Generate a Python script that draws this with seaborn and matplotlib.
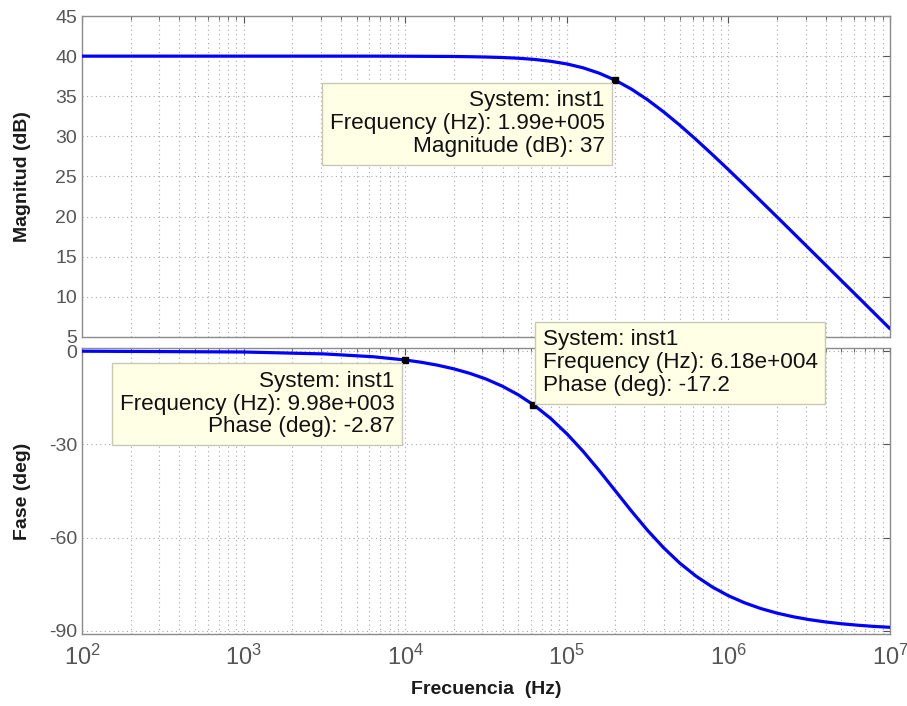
import numpy as np
import pandas as pd
import matplotlib
matplotlib.use("Agg")
import matplotlib.pyplot as plt
import seaborn as sns

# Frequency samples (Hz)
freq = [1e2, 1e3, 3.162e3, 6.31e3,
        1e4, 1.259e4, 1.585e4, 1.995e4, 2.512e4, 3.162e4, 3.981e4, 5.012e4, 6.31e4, 7.943e4,
        1e5, 1.259e5, 1.585e5, 1.995e5, 2.512e5, 3.162e5, 3.981e5, 5.012e5, 6.31e5, 7.943e5,
        1e6, 1.259e6, 1.585e6, 1.995e6, 2.512e6, 3.162e6, 3.981e6, 5.012e6, 6.31e6, 7.943e6,
        1e7]
magnitude_db = [40.00, 40.00, 40.00, 40.00,
                39.99, 39.98, 39.97, 39.96, 39.93, 39.89, 39.83, 39.74, 39.59, 39.36,
                39.03, 38.55, 37.88, 37.00, 35.89, 34.56, 33.04, 31.38, 29.60, 27.75,
                25.85, 23.91, 21.95, 19.98, 17.99, 16.00, 14.01, 12.01, 10.02, 8.02,
                6.02]
phase_deg = [-0.03, -0.29, -0.91, -1.81,
             -2.86, -3.60, -4.53, -5.70, -7.16, -8.98, -11.26, -14.07, -17.51, -21.66,
             -26.57, -32.19, -38.40, -44.93, -51.47, -57.69, -63.32, -68.25, -72.41, -75.87,
             -78.69, -80.97, -82.81, -84.28, -85.45, -86.38, -87.12, -87.71, -88.18, -88.56,
             -88.85]

# Data tips
tip_mag_f, tip_mag_v = 1.99e5, 37.0
tip_ph_f = [9.98e3, 6.18e4]
tip_ph_v = [-2.87, -17.2]
tip_texts = ["System: inst1\nFrequency (Hz): 1.99e+005\nMagnitude (dB): 37",
             "System: inst1\nFrequency (Hz): 9.98e+003\nPhase (deg): -2.87",
             "System: inst1\nFrequency (Hz): 6.18e+004\nPhase (deg): -17.2"]

mag_ticks = [5, 10, 15, 20, 25, 30, 35, 40, 45]
ph_ticks = [-90, -60, -30, 0]
x_ticks = [1e2, 1e3, 1e4, 1e5, 1e6, 1e7]
x_ticklabels = [r"$10^{2}$", r"$10^{3}$", r"$10^{4}$", r"$10^{5}$", r"$10^{6}$", r"$10^{7}$"]

df = pd.DataFrame({"f": freq, "mag": magnitude_db, "ph": phase_deg})

sns.set_style("white")
plt.rcParams["font.family"] = ["Liberation Sans", "DejaVu Sans"]
plt.rcParams["mathtext.fontset"] = "custom"
plt.rcParams["mathtext.rm"] = "Liberation Sans"
plt.rcParams["mathtext.it"] = "Liberation Sans"
plt.rcParams["axes.unicode_minus"] = False

fig = plt.figure(figsize=(9.07, 7.06), dpi=100)
ax1 = fig.add_axes([0.0904, 0.5227, 0.8909, 0.4546])
ax2 = fig.add_axes([0.0904, 0.1020, 0.8909, 0.4051])

tick_col = "#555555"
grid_col = "#a8a8a8"

for ax, col in ((ax1, "mag"), (ax2, "ph")):
    sns.lineplot(data=df, x="f", y=col, ax=ax, color="#0000ff", linewidth=2.3, zorder=3)
    ax.set_xscale("log")
    ax.set_xlim(1e2, 1e7)
    ax.grid(True, which="major", linestyle=(0, (1, 3)), color=grid_col, linewidth=0.8)
    ax.grid(True, which="minor", axis="x", linestyle=(0, (1, 3)), color=grid_col, linewidth=0.8)
    ax.tick_params(which="both", direction="in", top=True, right=True, colors=tick_col,
                   labelsize=14, length=5)
    ax.tick_params(which="minor", length=3)
    for s in ax.spines.values():
        s.set_color("#8c8c8c")
        s.set_linewidth(1.0)
    ax.set_xticks(x_ticks)

ax1.set_ylim(5, 45)
ax1.set_yticks(mag_ticks)
ax1.set_xticklabels([])
ax1.set_xlabel("")
ax1.set_ylabel("Magnitud (dB)", fontsize=14, fontweight="bold", color="#1a1a1a")
ax1.yaxis.set_label_coords(-0.063, 0.5)

ax2.set_ylim(-91, 1)
ax2.set_yticks(ph_ticks)
ax2.set_xticklabels(x_ticklabels, fontsize=17)
ax2.tick_params(axis="x", pad=8)
ax2.set_xlabel("Frecuencia  (Hz)", fontsize=14, fontweight="bold", color="#1a1a1a", labelpad=8)
ax2.set_ylabel("Fase (deg)", fontsize=14, fontweight="bold", color="#1a1a1a")
ax2.yaxis.set_label_coords(-0.063, 0.5)

box = dict(boxstyle="square,pad=0.32", facecolor="#ffffe6", edgecolor="#c8c8b4", linewidth=1.0)

# markers
ax1.plot([tip_mag_f], [tip_mag_v], marker="s", color="black", markersize=5, zorder=5)
ax2.plot(tip_ph_f, tip_ph_v, linestyle="none", marker="s", color="black", markersize=5, zorder=5)

fs = 16.2
# data tip boxes (positions in axes fraction)
ax1.text(0.6467, 0.768, tip_texts[0], transform=ax1.transAxes, ha="right", va="top",
         fontsize=fs, linespacing=1.12, bbox=box, zorder=6, color="#111111")
ax2.text(0.3868, 0.921, tip_texts[1], transform=ax2.transAxes, ha="right", va="top",
         fontsize=fs, linespacing=1.12, bbox=box, zorder=6, color="#111111")
ax2.text(0.570, 1.0647, tip_texts[2], transform=ax2.transAxes, ha="left", va="top",
         fontsize=fs, linespacing=1.12, bbox=box, zorder=6, clip_on=False, color="#111111")

fig.savefig("out.png", dpi=100)
